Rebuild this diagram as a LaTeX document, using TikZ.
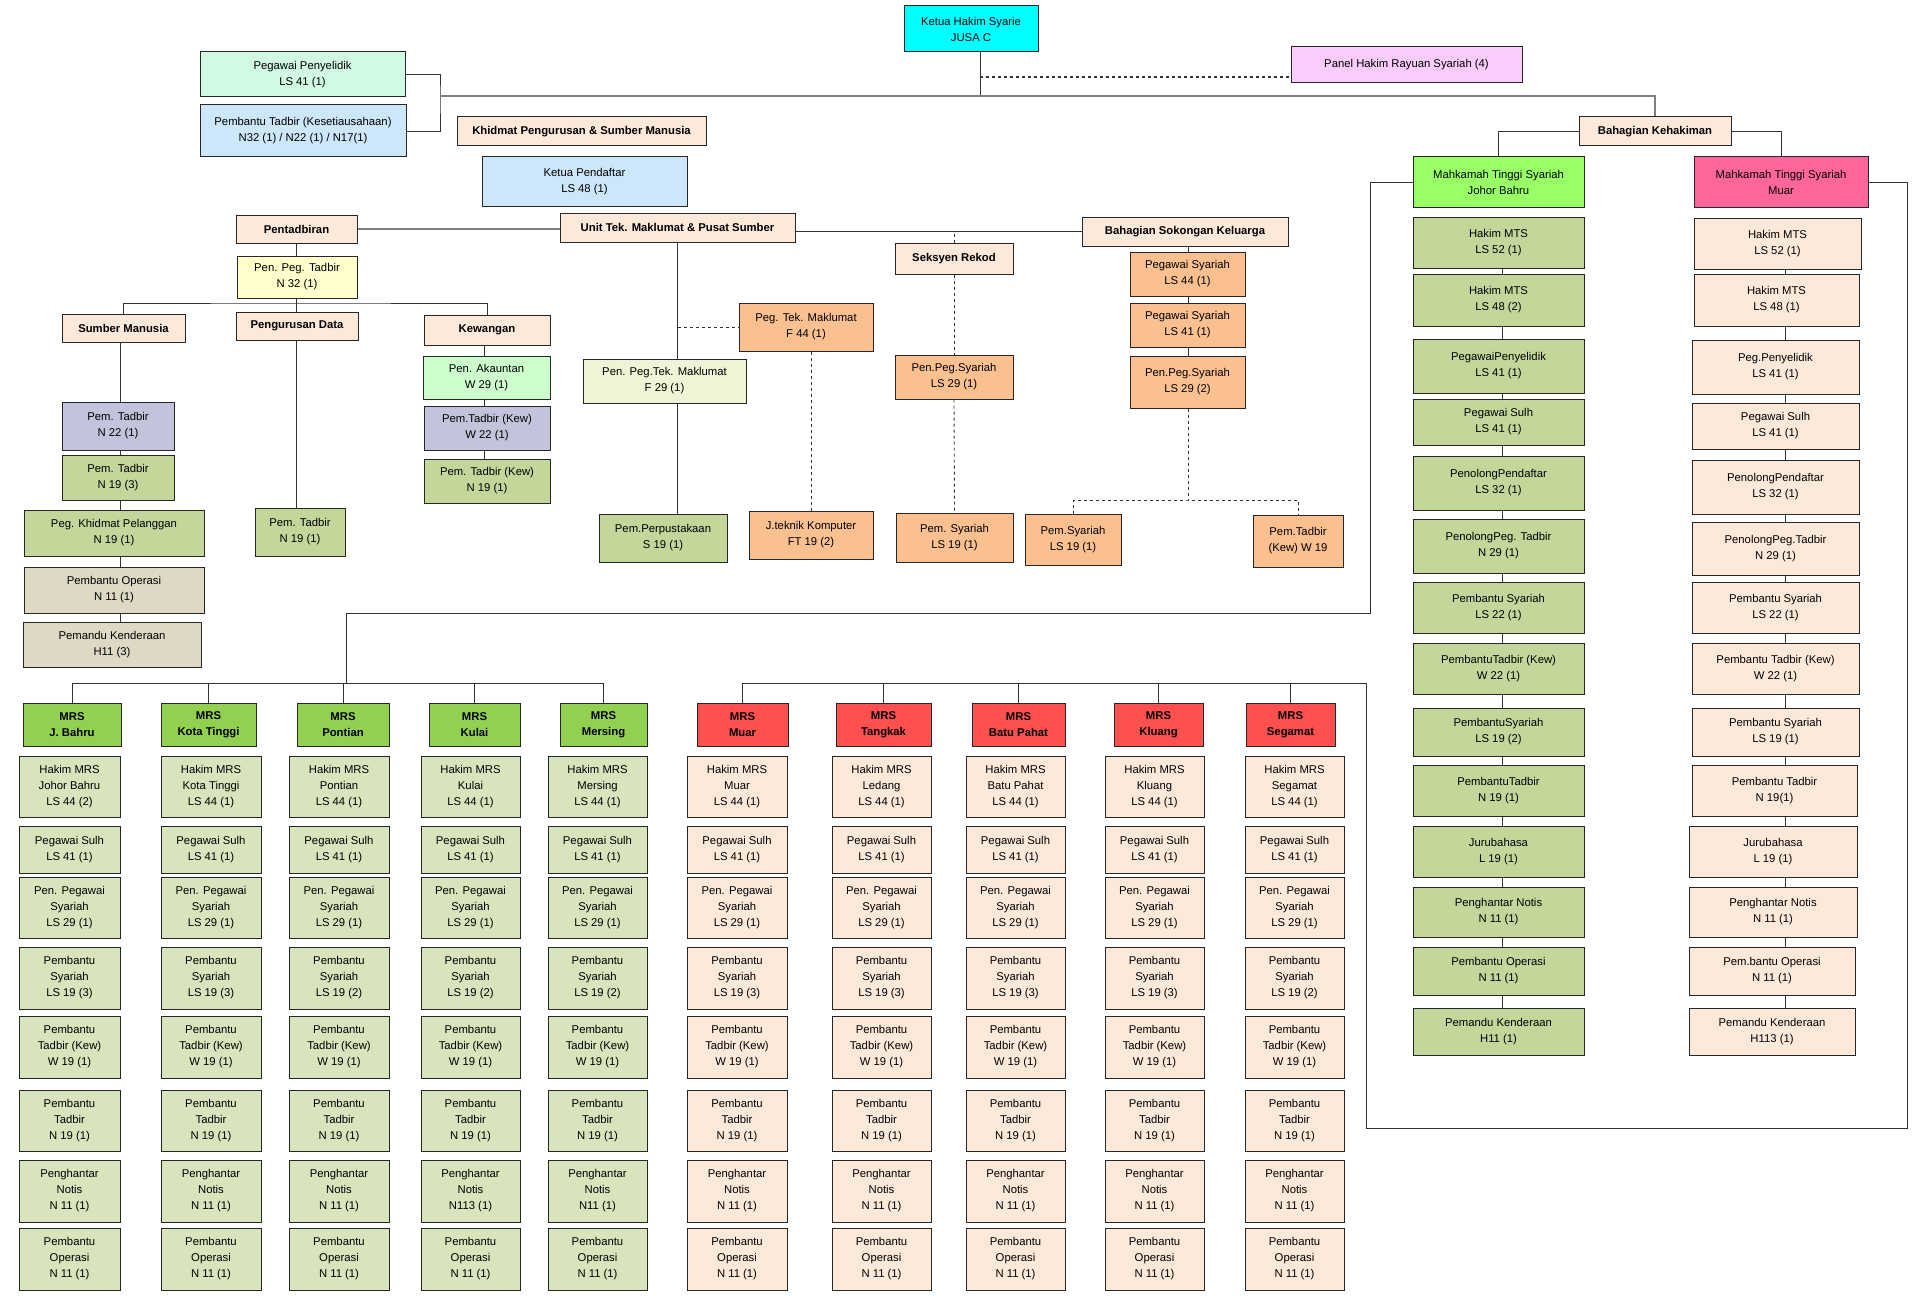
\documentclass[tikz,border=0pt]{standalone}
\usepackage{fontspec}
\setmainfont{Liberation Sans}
\usetikzlibrary{positioning}

\definecolor{cKetua}{HTML}{00FFFF}
\definecolor{cPanel}{HTML}{F9CCFC}
\definecolor{cMint}{HTML}{D0FAE3}
\definecolor{cBlue}{HTML}{CCE6FA}
\definecolor{cPeach}{HTML}{FDE9D9}
\definecolor{cLime}{HTML}{99FF66}
\definecolor{cPink}{HTML}{FF6699}
\definecolor{cYellow}{HTML}{FFFFCC}
\definecolor{cOrange}{HTML}{FAC090}
\definecolor{cGreen}{HTML}{C4D79B}
\definecolor{cGreenL}{HTML}{D8E4BC}
\definecolor{cTan}{HTML}{DDD9C4}
\definecolor{cLav}{HTML}{C4C3DC}
\definecolor{cMintG}{HTML}{CCFFCC}
\definecolor{cPale}{HTML}{EEF5D6}
\definecolor{cMrsG}{HTML}{92D050}
\definecolor{cMrsR}{HTML}{FF5050}

% box from its corners: name, x1, y1, x2, y2, style, text
\newcommand{\bx}[7]{\node[#6,minimum width={#4-#2},minimum height={#5-#3}] (#1) at ({(#2+#4)/2},{(#3+#5)/2}) {#7};}

\begin{document}
\begin{tikzpicture}[
  x=1pt,y=-1pt,
  box/.style={draw=black!85,line width=1pt,rectangle,align=center,inner sep=0pt,
    font=\fontsize{11.3}{16}\selectfont},
  hdr/.style={box,fill=cPeach,font=\fontsize{11.3}{16}\selectfont\bfseries},
  conn/.style={draw=black!80,line width=0.9pt},
  dconn/.style={conn,dashed},
  mainln/.style={draw=black!50,line width=1.6pt}
]
\fill[white] (0,0) rectangle (1923,1303);
\useasboundingbox (0,0) rectangle (1923,1303);

% top
\bx{ketua}{904}{6}{1038}{52}{box,fill=cKetua}{Ketua Hakim Syarie\\JUSA C}
\bx{panel}{1291}{47}{1522}{83}{box,fill=cPanel}{Panel Hakim Rayuan Syariah (4)}
\bx{ppy}{200}{52}{405}{97}{box,fill=cMint}{Pegawai Penyelidik\\LS 41 (1)}
\bx{pbk}{200}{105}{406}{157}{box,fill=cBlue}{Pembantu Tadbir (Kesetiausahaan)\\N32 (1) / N22 (1) / N17(1)}
\bx{kpsm}{457}{117}{706}{146}{hdr}{Khidmat Pengurusan \& Sumber Manusia}
\bx{kpd}{482}{157}{687}{206}{box,fill=cBlue}{Ketua Pendaftar\\LS 48 (1)}
\bx{bk}{1579}{117}{1731}{146}{hdr}{Bahagian Kehakiman}
\bx{mtsj}{1413}{157}{1584}{207}{box,fill=cLime}{Mahkamah Tinggi Syariah\\Johor Bahru}
\bx{mtsm}{1694}{157}{1868}{207}{box,fill=cPink}{Mahkamah Tinggi Syariah\\Muar}

\coordinate (ks) at (980,96);
\coordinate (kd) at (980,77);
\coordinate (lb) at (440,96);
\draw[conn] (ketua.south -| ks) -- (ks);
\draw[dconn,line width=1.3pt] (kd) -- (panel.west |- kd);
\draw[conn] (ppy.east) -| (lb) |- (pbk.east);
\draw[mainln] (lb) -| (bk.north);
\draw[conn] (bk.west) -| (mtsj.north);
\draw[conn] (bk.east) -| (mtsm.north);

% pentadbiran
\bx{pent}{236}{215}{357}{243}{hdr}{Pentadbiran}
\bx{unit}{560}{213}{795}{242}{hdr}{Unit Tek. Maklumat \& Pusat Sumber}
\bx{bsk}{1082}{217}{1288}{246}{hdr}{Bahagian Sokongan Keluarga}
\bx{sr}{895}{243}{1013}{274}{hdr}{Seksyen Rekod}
\bx{ppt}{237}{256}{357}{298}{box,fill=cYellow}{Pen. Peg. Tadbir\\N 32 (1)}
\bx{sm}{62}{314}{185}{342}{hdr}{Sumber Manusia}
\bx{pd}{236}{312}{358}{340}{hdr}{Pengurusan Data}
\bx{kew}{424}{315}{550}{345}{hdr}{Kewangan}

\draw[mainln] (pent.east) -- (pent.east -| unit.west);
\draw[conn] (bsk.west) -- (bsk.west -| unit.east);
\coordinate (pbar) at (296,303);
\draw[conn] (pent.south -| pbar) -- (ppt.north -| pbar);
\draw[conn] (ppt.south -| pbar) -- (pbar);
\draw[conn] (sm.north) |- (pbar) -| (kew.north);
\draw[conn] (pd.north -| pbar) -- (pbar);

% sumber manusia
\bx{smt1}{62}{402}{174}{450}{box,fill=cLav}{Pem. Tadbir\\N 22 (1)}
\bx{smt2}{62}{455}{174}{500}{box,fill=cGreen}{Pem. Tadbir\\N 19 (3)}
\bx{smt3}{24}{510}{204}{556}{box,fill=cGreen}{Peg. Khidmat Pelanggan\\N 19 (1)}
\bx{smt4}{24}{567}{204}{613}{box,fill=cTan}{Pembantu Operasi\\N 11 (1)}
\bx{smt5}{23}{622}{201}{667}{box,fill=cTan}{Pemandu Kenderaan\\H11 (3)}
\coordinate (sx) at (120,0);
\draw[conn] (sm.south -| sx) -- (smt1.north -| sx);
\foreach \k in {2,...,5}{
  \pgfmathtruncatemacro\p{\k-1}
  \draw[conn] (smt\p.south -| sx) -- (smt\k.north -| sx);
}

% pengurusan data
\bx{pdt}{255}{508}{345}{556}{box,fill=cGreen}{Pem. Tadbir\\N 19 (1)}
\draw[conn] (pd.south -| pbar) -- (pdt.north -| pbar);

% kewangan
\bx{kw1}{423}{356}{550}{399}{box,fill=cMintG}{Pen. Akauntan\\W 29 (1)}
\bx{kw2}{424}{406}{550}{450}{box,fill=cLav}{Pem.Tadbir (Kew)\\W 22 (1)}
\bx{kw3}{424}{459}{550}{503}{box,fill=cGreen}{Pem. Tadbir (Kew)\\N 19 (1)}
\coordinate (kx) at (484,0);
\draw[conn] (kew.south -| kx) -- (kw1.north -| kx);
\draw[conn] (kw1.south -| kx) -- (kw2.north -| kx);
\draw[conn] (kw2.south -| kx) -- (kw3.north -| kx);

% unit tek. maklumat
\bx{ptm}{739}{303}{873}{351}{box,fill=cOrange}{Peg. Tek. Maklumat\\F 44 (1)}
\bx{pptm}{583}{359}{746}{403}{box,fill=cPale}{Pen. Peg.Tek. Maklumat\\F 29 (1)}
\bx{perp}{599}{514}{727}{562}{box,fill=cGreen}{Pem.Perpustakaan\\S 19 (1)}
\bx{jtk}{749}{511}{873}{559}{box,fill=cOrange}{J.teknik Komputer\\FT 19 (2)}
\draw[conn] (unit.south) -- (unit.south |- pptm.north);
\draw[conn] (unit.south |- pptm.south) -- (unit.south |- perp.north);
\draw[dconn] (unit.south |- ptm.west) -- (ptm.west);
\draw[dconn] (jtk.north) -- (jtk.north |- ptm.south);

% seksyen rekod
\bx{srp}{895}{355}{1013}{399}{box,fill=cOrange}{Pen.Peg.Syariah\\LS 29 (1)}
\bx{srs}{896}{513}{1013}{562}{box,fill=cOrange}{Pem. Syariah\\LS 19 (1)}
\draw[dconn] (sr.north) -- (sr.north |- bsk.west);
\draw[dconn] (sr.south) -- (srp.north);
\draw[dconn] (srp.south) -- (srs.north);

% bahagian sokongan keluarga
\bx{bs1}{1130}{252}{1245}{296}{box,fill=cOrange}{Pegawai Syariah\\LS 44 (1)}
\bx{bs2}{1130}{303}{1245}{347}{box,fill=cOrange}{Pegawai Syariah\\LS 41 (1)}
\bx{bs3}{1130}{356}{1245}{408}{box,fill=cOrange}{Pen.Peg.Syariah\\LS 29 (2)}
\bx{bs4}{1025}{514}{1121}{565}{box,fill=cOrange}{Pem.Syariah\\LS 19 (1)}
\bx{bs5}{1253}{515}{1343}{567}{box,fill=cOrange}{Pem.Tadbir\\(Kew) W 19}
\coordinate (bfork) at (1188,500);
\draw[conn] (bsk.south -| bfork) -- (bs1.north -| bfork);
\draw[conn] (bs1.south -| bfork) -- (bs2.north -| bfork);
\draw[conn] (bs2.south -| bfork) -- (bs3.north -| bfork);
\draw[dconn] (bs3.south -| bfork) -- (bfork);
\draw[dconn] (bs4.north) |- (bfork) -| (bs5.north);

% mahkamah tinggi syariah johor bahru
\foreach \ya/\yb/\t [count=\k] in {
  217/268/Hakim MTS\\LS 52 (1),
  274/326/Hakim MTS\\LS 48 (2),
  339/393/PegawaiPenyelidik\\LS 41 (1),
  399/445/Pegawai Sulh\\LS 41 (1),
  456/510/PenolongPendaftar\\LS 32 (1),
  519/573/PenolongPeg. Tadbir\\N 29 (1),
  582/633/Pembantu Syariah\\LS 22 (1),
  643/694/PembantuTadbir (Kew)\\W 22 (1),
  708/756/PembantuSyariah\\LS 19 (2),
  765/816/PembantuTadbir\\N 19 (1),
  826/877/Jurubahasa\\L 19 (1),
  887/937/Penghantar Notis\\N 11 (1),
  947/995/Pembantu Operasi\\N 11 (1),
  1008/1055/Pemandu Kenderaan\\H11 (1)}{
  \bx{j\k}{1413}{\ya}{1584}{\yb}{box,fill=cGreen}{\t}
}
% mahkamah tinggi syariah muar
\foreach \xa/\xb/\ya/\yb/\t [count=\k] in {
  1694/1861/218/269/Hakim MTS\\LS 52 (1),
  1694/1859/274/326/Hakim MTS\\LS 48 (1),
  1692/1859/340/394/Peg.Penyelidik\\LS 41 (1),
  1692/1859/403/449/Pegawai Sulh\\LS 41 (1),
  1692/1859/460/514/PenolongPendaftar\\LS 32 (1),
  1692/1859/522/575/PenolongPeg.Tadbir\\N 29 (1),
  1692/1859/582/633/Pembantu Syariah\\LS 22 (1),
  1692/1859/643/694/Pembantu Tadbir (Kew)\\W 22 (1),
  1692/1859/708/756/Pembantu Syariah\\LS 19 (1),
  1692/1857/765/816/Pembantu Tadbir\\N 19(1),
  1689/1857/826/877/Jurubahasa\\L 19 (1),
  1689/1857/887/937/Penghantar Notis\\N 11 (1),
  1689/1855/947/995/Pem.bantu Operasi\\N 11 (1),
  1689/1855/1008/1055/Pemandu Kenderaan\\H113 (1)}{
  \bx{m\k}{\xa}{\ya}{\xb}{\yb}{box,fill=cPeach}{\t}
}
\coordinate (jx) at (1502,0);
\coordinate (mx) at (1785,0);
\foreach \k in {2,...,14}{
  \pgfmathtruncatemacro\p{\k-1}
  \draw[conn] (j\p.south -| jx) -- (j\k.north -| jx);
  \draw[conn] (m\p.south -| mx) -- (m\k.north -| mx);
}

% mahkamah rendah syariah
\coordinate (gbar) at (0,683);
\foreach \xa/\xb/\ha/\hb/\loc/\hk/\hn/\ps/\pn [count=\i] in {
  19/120/23/121/J. Bahru/Johor Bahru/2/3/N 11 (1),
  161/261/161/256/Kota Tinggi/Kota Tinggi/1/3/N 11 (1),
  289/389/297/389/Pontian/Pontian/1/2/N 11 (1),
  421/520/429/520/Kulai/Kulai/1/2/N113 (1),
  548/647/560/647/Mersing/Mersing/1/2/N11 (1),
  687/787/697/788/Muar/Muar/1/3/N 11 (1),
  832/931/836/931/Tangkak/Ledang/1/3/N 11 (1),
  966/1065/972/1065/Batu Pahat/Batu Pahat/1/3/N 11 (1),
  1105/1204/1114/1203/Kluang/Kluang/1/3/N 11 (1),
  1245/1344/1246/1335/Segamat/Segamat/1/2/N 11 (1)}{
  \ifnum\i<6 \def\hf{cMrsG}\def\cf{cGreenL}\else\def\hf{cMrsR}\def\cf{cPeach}\fi
  \bx{h\i}{\ha}{703}{\hb}{746}{hdr,fill=\hf}{MRS\\\loc}
  \bx{c\i-1}{\xa}{756}{\xb}{817}{box,fill=\cf}{Hakim MRS\\\hk\\LS 44 (\hn)}
  \bx{c\i-2}{\xa}{826}{\xb}{873}{box,fill=\cf}{Pegawai Sulh\\LS 41 (1)}
  \bx{c\i-3}{\xa}{877}{\xb}{938}{box,fill=\cf}{Pen. Pegawai\\Syariah\\LS 29 (1)}
  \bx{c\i-4}{\xa}{947}{\xb}{1009}{box,fill=\cf}{Pembantu\\Syariah\\LS 19 (\ps)}
  \bx{c\i-5}{\xa}{1016}{\xb}{1078}{box,fill=\cf}{Pembantu\\Tadbir (Kew)\\W 19 (1)}
  \bx{c\i-6}{\xa}{1090}{\xb}{1151}{box,fill=\cf}{Pembantu\\Tadbir\\N 19 (1)}
  \bx{c\i-7}{\xa}{1160}{\xb}{1222}{box,fill=\cf}{Penghantar\\Notis\\\pn}
  \bx{c\i-8}{\xa}{1228}{\xb}{1290}{box,fill=\cf}{Pembantu\\Operasi\\N 11 (1)}
  \draw[conn] (h\i.north) -- (h\i.north |- gbar);
}
\coordinate (jb1) at (1370,613);
\coordinate (jb2) at (346,683);
\coordinate (mr1) at (1907,1128);
\coordinate (mr2) at (1366,1128);
\draw[conn] (h1.north |- gbar) -- (h5.north |- gbar);
\draw[conn] (mtsj.west) -| (jb1) -| (jb2);
\draw[conn] (h6.north |- gbar) -| (mr2) -- (mr1) |- (mtsm.east);
\end{tikzpicture}
\end{document}
